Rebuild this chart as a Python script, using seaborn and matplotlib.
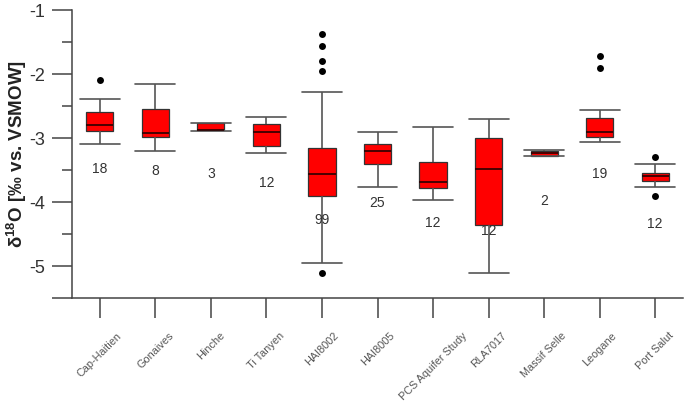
import matplotlib
matplotlib.use("Agg")
import matplotlib.pyplot as plt
import numpy as np
import pandas as pd
import seaborn as sns

sites = ["Cap-Haitien", "Gonaives", "Hinche", "Ti Tanyen", "HAI8002", "HAI8005",
         "PCS Aquifer Study", "RLA7017", "Massif Selle", "Leogane", "Port Salut"]
n_samples = [18, 8, 3, 12, 99, 25, 12, 12, 2, 19, 12]

# five-number summaries
whisker_low = [-3.10, -3.21, -2.89, -3.24, -4.96, -3.77, -3.97, -5.11, -3.285, -3.07, -3.76]
q1 = [-2.89, -2.99, -2.88, -3.12, -3.90, -3.40, -3.78, -4.36, -3.275, -2.98, -3.67]
median = [-2.79, -2.925, -2.875, -2.91, -3.57, -3.20, -3.68, -3.48, -3.23, -2.91, -3.59]
q3 = [-2.595, -2.55, -2.765, -2.78, -3.16, -3.10, -3.38, -3.00, -3.20, -2.68, -3.54]
whisker_high = [-2.39, -2.15, -2.76, -2.67, -2.28, -2.91, -2.835, -2.70, -3.185, -2.56, -3.40]

outlier_site = ["Cap-Haitien", "HAI8002", "HAI8002", "HAI8002", "HAI8002", "HAI8002",
                "Leogane", "Leogane", "Port Salut", "Port Salut"]
outlier_value = [-2.09, -1.37, -1.56, -1.80, -1.96, -5.11, -1.72, -1.91, -3.29, -3.90]

# where the n labels sit (data units)
count_label_y = [-3.49, -3.51, -3.57, -3.71, -4.28, -4.01, -4.33, -4.45, -3.99, -3.57, -4.35]

# long table: each site's box is drawn from its five summary values
rows = []
for i, s in enumerate(sites):
    for v in (whisker_low[i], q1[i], median[i], q3[i], whisker_high[i]):
        rows.append({"site": s, "d18O": v})
df = pd.DataFrame(rows)

sns.set_style("ticks")
plt.rcParams["font.family"] = ["Liberation Sans", "DejaVu Sans"]
plt.rcParams["axes.unicode_minus"] = False

fig, ax = plt.subplots(figsize=(6.85, 4.04), dpi=100)
fig.subplots_adjust(left=72 / 685, right=683 / 685, bottom=1 - 298 / 404, top=1 - 10 / 404)

sns.boxplot(data=df, x="site", y="d18O", order=sites, whis=(0, 100), width=0.49,
            color="#ff0000", saturation=1, linecolor="#333333", linewidth=0.9,
            capwidths=0.72,
            whiskerprops=dict(color="#555555", linewidth=1.2),
            capprops=dict(color="#555555", linewidth=1.2),
            medianprops=dict(color="#2a0000", linewidth=1.2),
            ax=ax)
sns.stripplot(x=outlier_site, y=outlier_value, order=sites, jitter=False,
              color="black", size=5, ax=ax)

for i, n in enumerate(n_samples):
    ax.text(i, count_label_y[i], str(n), ha="center", va="center", fontsize=10, color="#333333")

ax.set_ylim(-5.5, -1)
ax.set_xlim(-0.5, len(sites) - 0.5)
ax.set_yticks([-5.5, -5, -4, -3, -2, -1])
ax.set_yticklabels(["", "-5", "-4", "-3", "-2", "-1"])
ax.set_yticks([-4.5, -3.5, -2.5, -1.5], minor=True)

ax.tick_params(axis="y", which="major", length=14.4, width=1.1, color="#444444",
               labelsize=13, labelcolor="#333333", pad=5)
ax.tick_params(axis="y", which="minor", length=7.2, width=1.1, color="#444444")
ax.tick_params(axis="x", length=14.4, width=1.1, color="#444444", labelsize=7.8,
               labelcolor="#555555", pad=9, labelrotation=45)

ax.set_xlabel("")
ax.set_ylabel(r"δ$^{\mathregular{18}}$O [‰ vs. VSMOW]", fontsize=13.5, fontweight="bold",
              color="#222222")
ax.yaxis.set_label_coords(-0.07, 0.5)

sns.despine(ax=ax)
for sp in ("left", "bottom"):
    ax.spines[sp].set_color("#444444")
    ax.spines[sp].set_linewidth(1.1)

fig.savefig("out.png", dpi=100)
